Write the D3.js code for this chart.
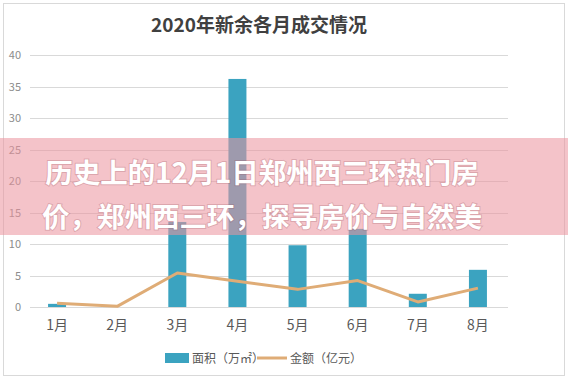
<!DOCTYPE html>
<html>
<head>
<meta charset="utf-8">
<script src="https://cdn.jsdelivr.net/npm/d3@7"></script>
<style>
  body { margin: 0; background: #fff; }
  svg text { font-family: "Noto Sans CJK SC", "Noto Sans", sans-serif; }
</style>
</head>
<body>
<svg id="chart" width="568" height="379"></svg>
<script>
// data
const months = ["1月", "2月", "3月", "4月", "5月", "6月", "7月", "8月"];
const area = [0.5, 0, 13.5, 36.2, 9.8, 12.4, 2.1, 5.9];     // 面积（万㎡）
const amount = [0.6, 0.1, 5.4, 4.1, 2.8, 4.2, 0.8, 3.0];    // 金额（亿元）
const yTicks = [0, 5, 10, 15, 20, 25, 30, 35, 40];
const title = "2020年新余各月成交情况";
const bannerLines = ["历史上的12月1日郑州西三环热门房", "价，郑州西三环，探寻房价与自然美"];

const svg = d3.select("#chart");
const W = 568, H = 379;
const margin = {top: 55, right: 60, bottom: 72, left: 27};

// outer frame
svg.append("rect")
  .attr("x", 3.5).attr("y", 3.5)
  .attr("width", W - 7).attr("height", H - 7)
  .attr("fill", "#fff").attr("stroke", "#d9d9d9");

svg.append("text")
  .attr("x", 259).attr("y", 32)
  .attr("text-anchor", "middle")
  .attr("font-size", 19).attr("font-weight", "bold")
  .attr("fill", "#404040")
  .text(title);

const x = d3.scaleBand().domain(months)
  .range([margin.left, W - margin.right]);
const y = d3.scaleLinear().domain([0, 40])
  .range([H - margin.bottom, margin.top]);

// gridlines
svg.append("g")
  .selectAll("line").data(yTicks).join("line")
  .attr("x1", 30).attr("x2", 508)
  .attr("y1", d => Math.round(y(d)) + 0.5)
  .attr("y2", d => Math.round(y(d)) + 0.5)
  .attr("stroke", "#d9d9d9");

const yAxis = svg.append("g")
  .attr("transform", "translate(21,0)")
  .call(d3.axisLeft(y).tickValues(yTicks).tickSize(0).tickPadding(0));
yAxis.select(".domain").remove();
yAxis.selectAll("text")
  .attr("font-size", 11).attr("fill", "#8c8c8c")
  .style("font-family", "'Noto Sans CJK SC', sans-serif");

const xAxis = svg.append("g")
  .attr("transform", "translate(0," + (H - margin.bottom) + ")")
  .call(d3.axisBottom(x).tickSize(0).tickPadding(13));
xAxis.select(".domain").remove();
xAxis.selectAll("text")
  .attr("font-size", 14).attr("fill", "#595959")
  .style("font-family", "'Noto Sans CJK SC', sans-serif");

// bars
const bw = 18;
svg.append("g")
  .selectAll("rect").data(area).join("rect")
  .attr("x", (d, i) => x(months[i]) + x.bandwidth() / 2 - bw / 2)
  .attr("y", d => y(d))
  .attr("width", bw)
  .attr("height", d => y(0) - y(d))
  .attr("fill", "#3ba3c0");

// line
const line = d3.line()
  .x((d, i) => x(months[i]) + x.bandwidth() / 2)
  .y(d => y(d));
svg.append("path")
  .datum(amount)
  .attr("d", line)
  .attr("fill", "none")
  .attr("stroke", "#dfac76")
  .attr("stroke-width", 3)
  .attr("stroke-linejoin", "round");

// legend
const lg = svg.append("g").attr("transform", "translate(0,358)");
lg.append("rect").attr("x", 165).attr("y", -5).attr("width", 24).attr("height", 10).attr("fill", "#3ba3c0");
lg.append("text").attr("x", 192).attr("y", 4.5).attr("font-size", 12).attr("fill", "#595959").text("面积（万㎡）");
lg.append("line").attr("x1", 257).attr("x2", 287).attr("y1", 0).attr("y2", 0)
  .attr("stroke", "#dfac76").attr("stroke-width", 3);
lg.append("text").attr("x", 290).attr("y", 4.5).attr("font-size", 12).attr("fill", "#595959").text("金额（亿元）");

// pink banner overlay
svg.append("rect")
  .attr("x", 0).attr("y", 138)
  .attr("width", W).attr("height", 97)
  .attr("fill", "rgb(235,148,159)").attr("fill-opacity", 0.56);

svg.append("g")
  .selectAll("text").data(bannerLines).join("text")
  .attr("x", 262)
  .attr("y", (d, i) => 183 + i * 44)
  .attr("text-anchor", "middle")
  .attr("font-size", 27.5).attr("font-weight", "bold")
  .attr("fill", "#fff")
  .style("paint-order", "stroke")
  .attr("stroke", "rgba(150,80,90,0.25)").attr("stroke-width", 2)
  .text(d => d);
</script>
</body>
</html>
